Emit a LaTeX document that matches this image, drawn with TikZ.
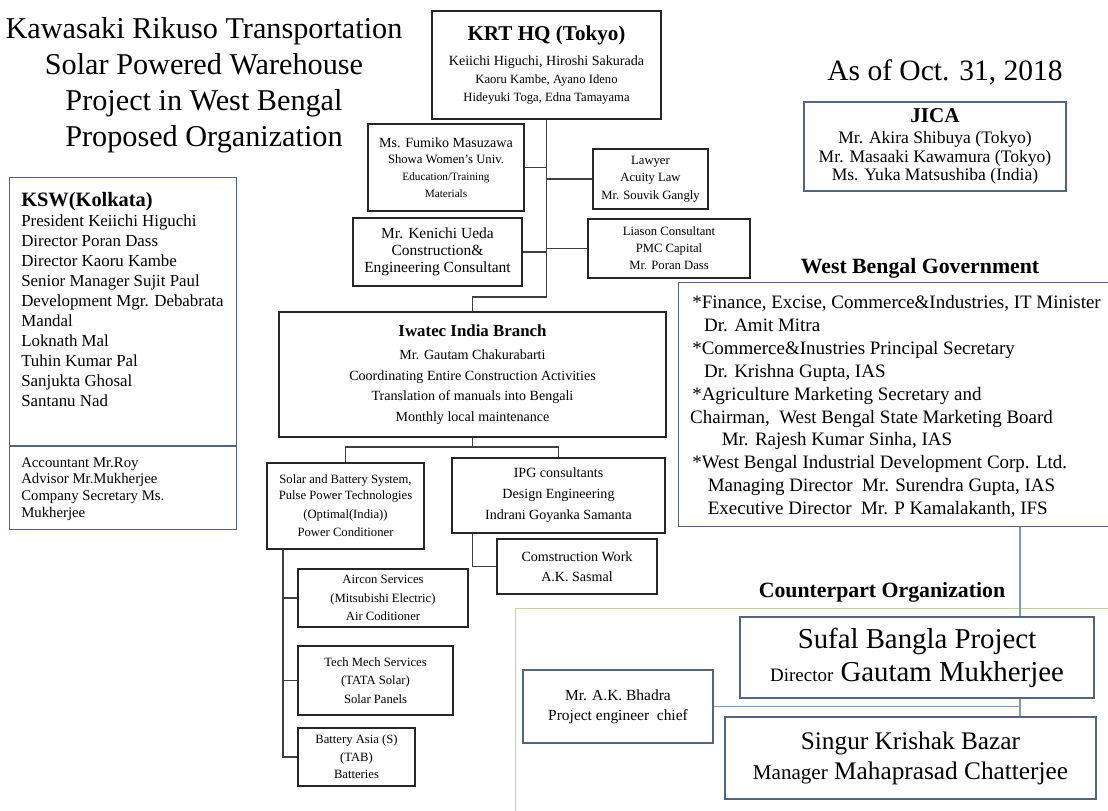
\documentclass[tikz,border=0pt]{standalone}
\usepackage{fontspec}
\setmainfont{Liberation Serif}
\usetikzlibrary{positioning}
\definecolor{SlateLine}{RGB}{85,100,125}
\definecolor{LinkBlue}{RGB}{125,155,190}
\definecolor{CpGreen}{RGB}{195,214,150}
\newcommand{\pxu}{0.7113pt}
\newcommand{\fs}[2]{\fontsize{#1}{#2}\selectfont}

\begin{document}
\begin{tikzpicture}[
        x=\pxu, y=-\pxu,
        box/.style={draw=black!85, line width=0.75pt, fill=white, inner sep=0pt, align=center},
        govbox/.style={draw=SlateLine, line width=0.75pt, fill=white, inner sep=0pt},
        textblock/.style={anchor=north west, inner sep=0pt, align=left},
        heading/.style={inner sep=0pt, anchor=base},
        conn/.style={draw=black!75, line width=1.2pt},
        govlink/.style={draw=LinkBlue, line width=1pt}
    ]
        \useasboundingbox (0,0) rectangle (1108,811);

        % title and date
        \node[inner sep=0pt, anchor=north, align=center, font=\fs{21.5}{25.6}] (title) at (204,17)
            {Kawasaki Rikuso Transportation\\Solar Powered Warehouse\\Project in West Bengal\\Proposed Organization};
        \node[heading, font=\fs{21}{22}] (asof) at (945,81) {As of Oct. 31, 2018};

        % KRT side
        \node[box, minimum width=229*\pxu, minimum height=108*\pxu, font=\fs{9}{12.8}] (hq) at (546.5,65)
            {{\fs{15}{15}\bfseries KRT HQ (Tokyo)}\\[5pt]{\fs{10}{12.8}Keiichi Higuchi, Hiroshi Sakurada}\\Kaoru Kambe, Ayano Ideno\\Hideyuki Toga, Edna Tamayama};
        \node[box, minimum width=156*\pxu, minimum height=87*\pxu, font=\fs{8}{12}] (fumiko) at (446,167.5)
            {{\fs{10}{12}Ms. Fumiko Masuzawa}\\{\fs{9}{12}Showa Women's Univ.}\\Education/Training\\Materials};
        \node[box, minimum width=169*\pxu, minimum height=68*\pxu, font=\fs{11}{12.1}] (ueda) at (437.5,252)
            {Mr. Kenichi Ueda\\Construction\&\\Engineering Consultant};
        \node[box, minimum width=115*\pxu, minimum height=60*\pxu, font=\fs{9}{12.4}] (lawyer) at (650.5,179)
            {Lawyer\\Acuity Law\\Mr. Souvik Gangly};
        \node[box, minimum width=162*\pxu, minimum height=59*\pxu, font=\fs{9}{12}] (liason) at (669,248.5)
            {Liason Consultant\\PMC Capital\\Mr. Poran Dass};
        \node[box, minimum width=387*\pxu, minimum height=125*\pxu, font=\fs{10}{14.6}] (iw) at (472.5,374.5)
            {{\fs{12}{14.6}\bfseries Iwatec India Branch}\\[1.8pt]Mr. Gautam Chakurabarti\\Coordinating Entire Construction Activities\\Translation of manuals into Bengali\\Monthly local maintenance};
        \node[box, minimum width=157*\pxu, minimum height=86*\pxu, font=\fs{9}{13.2}] (solar) at (345.5,506)
            {Solar and Battery System,\\[-1.8pt]Pulse Power Technologies\\(Optimal(India))\\Power Conditioner};
        \node[box, minimum width=213*\pxu, minimum height=75*\pxu, font=\fs{10}{15}] (ipg) at (558.5,495.5)
            {IPG consultants\\Design Engineering\\Indrani Goyanka Samanta};
        \node[box, minimum width=160*\pxu, minimum height=55*\pxu, font=\fs{10}{14}] (cw) at (577,566.5)
            {Comstruction Work\\A.K. Sasmal};
        \node[box, minimum width=170*\pxu, minimum height=58*\pxu, font=\fs{9}{13}] (aircon) at (383,598)
            {Aircon Services\\(Mitsubishi Electric)\\Air Coditioner};
        \node[box, minimum width=155*\pxu, minimum height=69*\pxu, font=\fs{9}{13}] (tech) at (375.5,680.5)
            {Tech Mech Services\\(TATA Solar)\\Solar Panels};
        \node[box, minimum width=117*\pxu, minimum height=58*\pxu, font=\fs{9}{12.5}] (battery) at (356.5,757)
            {Battery Asia (S)\\(TAB)\\Batteries};

        \coordinate (split) at (546.5,297);
        \draw[conn] (hq.south) -- (split) -| (iw.north);
        \draw[conn] (fumiko.east) -- (fumiko.east -| split);
        \draw[conn] (ueda.east) -- (ueda.east -| split);
        \draw[conn] (lawyer.west) -- (lawyer.west -| split);
        \draw[conn] (liason.west) -- (liason.west -| split);
        \coordinate (fork) at (472.5,447);
        \draw[conn] (iw.south) -- (fork) -| (solar.north);
        \draw[conn] (fork) -| (ipg.north);
        \draw[conn] (ipg.south -| fork) |- (cw.west);
        \coordinate (sbus) at (283,549);
        \draw[conn] (sbus) |- (battery.west);
        \draw[conn] (sbus |- aircon.west) -- (aircon.west);
        \draw[conn] (sbus |- tech.west) -- (tech.west);

        % KSW
        \node[govbox, anchor=north west, minimum width=227*\pxu, minimum height=268*\pxu] (ksw) at (9,177) {};
        \node[govbox, anchor=north west, minimum width=227*\pxu, minimum height=83*\pxu] (kswlow) at (ksw.south west) {};
        \node[textblock, font=\fs{12}{14.2}] (kswtxt) at (21,192)
            {{\fs{14.5}{14.2}\bfseries KSW(Kolkata)}\\President Keiichi Higuchi\\Director Poran Dass\\Director Kaoru Kambe\\Senior Manager Sujit Paul\\Development Mgr. Debabrata\\Mandal\\Loknath Mal\\Tuhin Kumar Pal\\Sanjukta Ghosal\\Santanu Nad};
        \node[textblock, font=\fs{10.5}{11.9}] (kswlowtxt) at (21,457)
            {Accountant Mr.Roy\\Advisor Mr.Mukherjee\\Company Secretary Ms.\\Mukherjee};

        % JICA
        \node[govbox, align=center, minimum width=262*\pxu, minimum height=89*\pxu, font=\fs{12.5}{13.2}] (jica) at (935,146.5)
            {{\fs{15}{15}\bfseries JICA}\\[1.8pt]Mr. Akira Shibuya (Tokyo)\\Mr. Masaaki Kawamura (Tokyo)\\Ms. Yuka Matsushiba (India)};

        % West Bengal Government
        \node[heading, font=\fs{15.5}{16}\bfseries] (wbhead) at (920,273) {West Bengal Government};
        \node[govbox, anchor=north west, minimum width=440*\pxu, minimum height=244*\pxu] (wb) at (678,282) {};
        \node[textblock, font=\fs{13.5}{16.3}] (wbtxt) at (692,295)
            {*Finance, Excise, Commerce\&Industries, IT Minister\\
             \hspace*{8.5pt}Dr. Amit Mitra\\
             *Commerce\&Inustries Principal Secretary\\
             \hspace*{8.5pt}Dr. Krishna Gupta, IAS\\
             *Agriculture Marketing Secretary and\\
             \hspace*{-1.5pt}Chairman,\ \ West Bengal State Marketing Board\\
             \hspace*{21pt}Mr. Rajesh Kumar Sinha, IAS\\
             *West Bengal Industrial Development Corp. Ltd.\\
             \hspace*{11pt}Managing Director\ \ Mr. Surendra Gupta, IAS\\
             \hspace*{11pt}Executive Director\ \ Mr. P Kamalakanth,\ IFS};

        % Counterpart Organization
        \node[heading, font=\fs{15.5}{16}\bfseries] (cphead) at (882,597) {Counterpart Organization};
        \node[draw=CpGreen, line width=1pt, anchor=north west, inner sep=0pt, minimum width=600*\pxu, minimum height=220*\pxu] (cparea) at (515,608) {};
        \node[govbox, align=center, minimum width=354*\pxu, minimum height=81*\pxu, font=\fs{20.5}{23.5}] (sufal) at (917,657.5)
            {Sufal Bangla Project\\{\fs{13.5}{23.5}Director} Gautam Mukherjee};
        \node[govbox, align=center, minimum width=371*\pxu, minimum height=82*\pxu, font=\fs{18}{21.3}] (singur) at (910.5,758)
            {Singur Krishak Bazar\\{\fs{15}{21.3}Manager} Mahaprasad Chatterjee};
        \node[govbox, align=center, minimum width=190*\pxu, minimum height=73*\pxu, font=\fs{11}{14}] (bhadra) at (618,706.5)
            {Mr. A.K. Bhadra\\Project engineer\ \ chief};

        \coordinate (cpx) at (1020,0);
        \draw[govlink] (wb.south -| cpx) -- (sufal.north -| cpx);
        \draw[govlink] (sufal.south -| cpx) -- (singur.north -| cpx);
        \draw[govlink] (bhadra.east) -- (bhadra.east -| cpx);
    \end{tikzpicture}
\end{document}
